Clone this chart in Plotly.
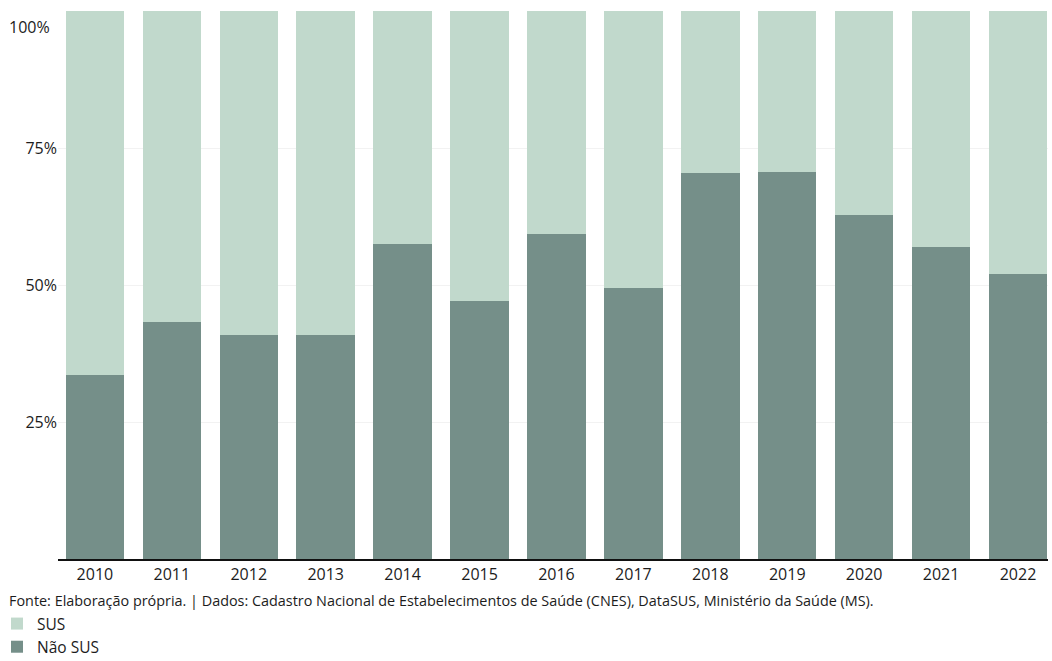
import plotly.graph_objects as go

anos = ["2010", "2011", "2012", "2013", "2014", "2015", "2016", "2017", "2018", "2019", "2020", "2021", "2022"]
nao_sus = [33.6, 43.3, 40.8, 40.8, 57.4, 47.0, 59.3, 49.4, 70.4, 70.7, 62.8, 57.0, 52.0]
sus = [round(100 - v, 1) for v in nao_sus]
ytick_vals = [25, 50, 75]
ytick_text = ["25%", "50%", "75%"]

font_family = "Open Sans, Noto Sans, sans-serif"
txt = "#1c1c1c"

L, T, B = 58, 11, 102
H = 661 - T - B
W = 1052 - L - 4

fig = go.Figure()
fig.add_trace(go.Bar(x=anos, y=nao_sus, name="Não SUS", marker=dict(color="#758f89", line=dict(width=0))))
fig.add_trace(go.Bar(x=anos, y=sus, name="SUS", marker=dict(color="#c1d9cc", line=dict(width=0))))

fig.update_layout(
    barmode="stack",
    bargap=0.24,
    width=1052, height=661,
    margin=dict(l=L, r=4, t=T, b=B, autoexpand=False),
    plot_bgcolor="white", paper_bgcolor="white",
    font=dict(family=font_family, color=txt, size=16),
    xaxis=dict(type="category", range=[-0.48, 12.39], showgrid=False, automargin=False,
               showline=True, linecolor="#111111", linewidth=2,
               tickfont=dict(size=16, color=txt), ticks=""),
    yaxis=dict(range=[0, 100], tickvals=ytick_vals, ticktext=ytick_text, automargin=False,
               showgrid=True, gridcolor="#f2f2f2", gridwidth=1, zeroline=False,
               tickfont=dict(size=16, color=txt), ticks="", showline=False),
    legend=dict(orientation="v", traceorder="reversed", x=(-3 - L) / W, xanchor="left",
                y=-(664 - (661 - B)) / H, yanchor="bottom", font=dict(size=15.5, color=txt),
                itemwidth=30, tracegroupgap=0, bgcolor="rgba(0,0,0,0)"),
    annotations=[
        dict(text="100%", xref="paper", yref="y", x=0, y=100, xanchor="right", yanchor="top",
             xshift=-6, yshift=-3, showarrow=False, font=dict(size=16, color=txt)),
        dict(text="Fonte: Elaboração própria. | Dados: Cadastro Nacional de Estabelecimentos de Saúde (CNES), DataSUS, Ministério da Saúde (MS).",
             xref="paper", yref="paper", x=(7 - L) / W, y=-(600 - (661 - B)) / H, xanchor="left", yanchor="middle",
             showarrow=False, font=dict(size=14.4, color=txt)),
    ],
)

fig.write_html("out.html", config={"displayModeBar": False},
               post_script="document.body.style.margin='0';document.body.style.overflow='hidden';")
